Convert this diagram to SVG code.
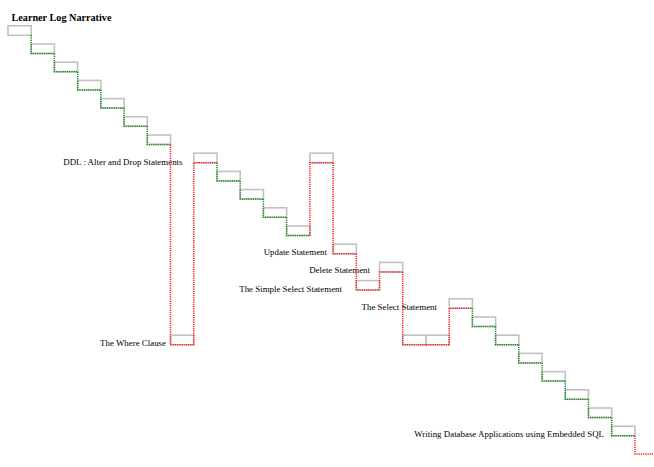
<svg xmlns="http://www.w3.org/2000/svg" width="654" height="467" viewBox="0 0 654 467">
  <style>
    .bg { fill: #ffffff; }
    .box { fill: none; stroke: #c2c2c2; stroke-width: 1.6; }
    .step { fill: none; stroke: #118a11; stroke-width: 1.5; stroke-dasharray: 1.2 1; }
    .jump { fill: none; stroke: #ff1a1a; stroke-width: 1.5; stroke-dasharray: 1.2 1; }
    .label { font-family: "Liberation Serif", "Times New Roman", serif; font-size: 8.9px; fill: #000000; text-anchor: end; }
    .title { font-family: "Liberation Serif", "Times New Roman", serif; font-size: 10.2px; font-weight: bold; fill: #000000; }
  </style>
  <rect class="bg" x="0" y="0" width="654" height="467"/>

  <text class="title" x="11.5" y="21">Learner Log Narrative</text>

  <!-- session boxes: column width 23.22, level pitch 18.2 -->
  <g id="n01"><rect class="box" x="8" y="25.8" width="23.22" height="9.5"/></g>
  <g id="n02"><rect class="box" x="31.2" y="44" width="23.22" height="9.5"/></g>
  <g id="n03"><rect class="box" x="54.4" y="62.2" width="23.22" height="9.5"/></g>
  <g id="n04"><rect class="box" x="77.7" y="80.4" width="23.22" height="9.5"/></g>
  <g id="n05"><rect class="box" x="100.9" y="98.6" width="23.22" height="9.5"/></g>
  <g id="n06"><rect class="box" x="124.1" y="116.8" width="23.22" height="9.5"/></g>
  <g id="n07"><rect class="box" x="147.3" y="135" width="23.22" height="9.5"/></g>
  <g id="n08">
    <rect class="box" x="170.5" y="335.2" width="23.22" height="9.5"/>
    <text class="label" x="166" y="346.2">The Where Clause</text>
  </g>
  <g id="n09">
    <rect class="box" x="193.8" y="153.2" width="23.22" height="9.5"/>
    <text class="label" x="182.5" y="164.5">DDL : Alter and Drop Statements</text>
  </g>
  <g id="n10"><rect class="box" x="217" y="171.4" width="23.22" height="9.5"/></g>
  <g id="n11"><rect class="box" x="240.2" y="189.6" width="23.22" height="9.5"/></g>
  <g id="n12"><rect class="box" x="263.4" y="207.8" width="23.22" height="9.5"/></g>
  <g id="n13"><rect class="box" x="286.6" y="226" width="23.22" height="9.5"/></g>
  <g id="n14"><rect class="box" x="309.9" y="153.2" width="23.22" height="9.5"/></g>
  <g id="n15">
    <rect class="box" x="333.1" y="244.2" width="23.22" height="9.5"/>
    <text class="label" x="327" y="255.2">Update Statement</text>
  </g>
  <g id="n16">
    <rect class="box" x="356.3" y="280.6" width="23.22" height="9.5"/>
    <text class="label" x="342" y="291.6">The Simple Select Statement</text>
  </g>
  <g id="n17">
    <rect class="box" x="379.5" y="262.4" width="23.22" height="9.5"/>
    <text class="label" x="370" y="273.2">Delete Statement</text>
  </g>
  <g id="n18"><rect class="box" x="402.7" y="335.2" width="23.22" height="9.5"/></g>
  <g id="n19"><rect class="box" x="426" y="335.2" width="23.22" height="9.5"/></g>
  <g id="n20">
    <rect class="box" x="449.2" y="298.8" width="23.22" height="9.5"/>
    <text class="label" x="437" y="309.5">The Select Statement</text>
  </g>
  <g id="n21"><rect class="box" x="472.4" y="317" width="23.22" height="9.5"/></g>
  <g id="n22"><rect class="box" x="495.6" y="335.2" width="23.22" height="9.5"/></g>
  <g id="n23"><rect class="box" x="518.8" y="353.4" width="23.22" height="9.5"/></g>
  <g id="n24"><rect class="box" x="542.1" y="371.6" width="23.22" height="9.5"/></g>
  <g id="n25"><rect class="box" x="565.3" y="389.8" width="23.22" height="9.5"/></g>
  <g id="n26"><rect class="box" x="588.5" y="408" width="23.22" height="9.5"/></g>
  <g id="n27">
    <rect class="box" x="611.7" y="426.2" width="23.22" height="9.5"/>
    <text class="label" x="604" y="437.2">Writing Database Applications using Embedded SQL</text>
  </g>

  <!-- transitions: vertical drop/rise from the end of one box, then along the next box's base -->
  <g id="connectors">
    <path class="step" d="M31.2 35.3V53.5H54.4"/>
    <path class="step" d="M54.4 53.5V71.7H77.7"/>
    <path class="step" d="M77.7 71.7V89.9H100.9"/>
    <path class="step" d="M100.9 89.9V108.1H124.1"/>
    <path class="step" d="M124.1 108.1V126.3H147.3"/>
    <path class="step" d="M147.3 126.3V144.5H170.5"/>
    <path class="jump" d="M170.5 144.5V344.7H193.8"/>
    <path class="jump" d="M193.8 344.7V162.7H217"/>
    <path class="step" d="M217 162.7V180.9H240.2"/>
    <path class="step" d="M240.2 180.9V199.1H263.4"/>
    <path class="step" d="M263.4 199.1V217.3H286.6"/>
    <path class="step" d="M286.6 217.3V235.5H309.9"/>
    <path class="jump" d="M309.9 235.5V162.7H333.1"/>
    <path class="jump" d="M333.1 162.7V253.7H356.3"/>
    <path class="jump" d="M356.3 253.7V290.1H379.5"/>
    <path class="jump" d="M379.5 290.1V271.9H402.7"/>
    <path class="jump" d="M402.7 271.9V344.7H426"/>
    <path class="jump" d="M426 344.7H449.2"/>
    <path class="jump" d="M449.2 344.7V308.3H472.4"/>
    <path class="step" d="M472.4 308.3V326.5H495.6"/>
    <path class="step" d="M495.6 326.5V344.7H518.8"/>
    <path class="step" d="M518.8 344.7V362.9H542.1"/>
    <path class="step" d="M542.1 362.9V381.1H565.3"/>
    <path class="step" d="M565.3 381.1V399.3H588.5"/>
    <path class="step" d="M588.5 399.3V417.5H611.7"/>
    <path class="step" d="M611.7 417.5V435.7H634.9"/>
    <path class="jump" d="M634.9 435.7V453.9H658"/>
  </g>
</svg>
